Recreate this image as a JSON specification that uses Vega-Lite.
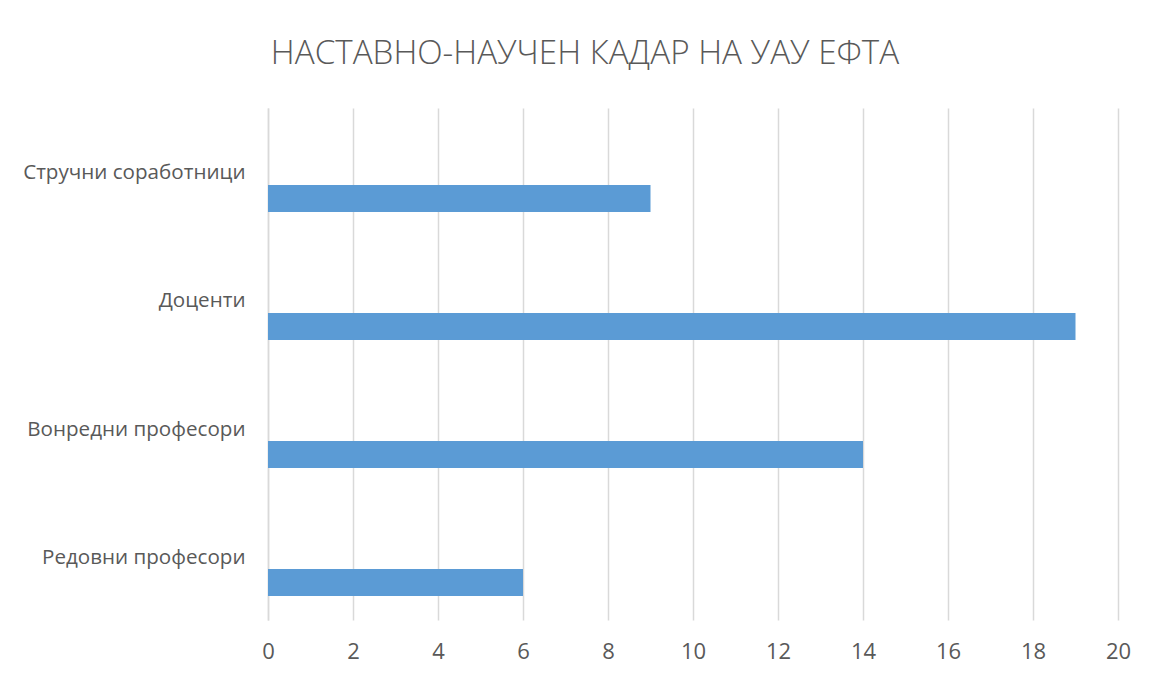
{
  "$schema": "https://vega.github.io/schema/vega-lite/v6.json",
  "width": 850,
  "height": 512,
  "autosize": {"type": "none"},
  "padding": {"left": 268, "top": 108, "right": 34, "bottom": 54},
  "background": "white",
  "title": {
    "text": "НАСТАВНО-НАУЧЕН КАДАР НА УАУ ЕФТА",
    "anchor": "middle",
    "dx": -108,
    "offset": 37,
    "font": "Open Sans",
    "fontSize": 33.2,
    "fontWeight": 300,
    "color": "#595959"
  },
  "data": {
    "values": [
      {"category": "Редовни професори", "count": 6},
      {"category": "Вонредни професори", "count": 14},
      {"category": "Доценти", "count": 19},
      {"category": "Стручни соработници", "count": 9}
    ]
  },
  "mark": {"type": "bar", "color": "#5B9BD5"},
  "encoding": {
    "y": {
      "field": "category",
      "type": "nominal",
      "sort": ["Стручни соработници", "Доценти", "Вонредни професори", "Редовни професори"],
      "scale": {"paddingInner": 0.7891, "paddingOuter": 0.3945, "align": 0.7624},
      "axis": {
        "title": null,
        "ticks": false,
        "domain": true,
        "domainColor": "#d9d9d9",
        "domainWidth": 1.5,
        "labelPadding": 23,
        "labelOffset": -25,
        "labelFont": "Open Sans",
        "labelFontSize": 20.6,
        "labelColor": "#595959",
        "labelLimit": 400,
        "grid": false
      }
    },
    "x": {
      "field": "count",
      "type": "quantitative",
      "scale": {"domain": [0, 20], "nice": false},
      "axis": {
        "title": null,
        "values": [0, 2, 4, 6, 8, 10, 12, 14, 16, 18, 20],
        "ticks": false,
        "domain": false,
        "grid": true,
        "gridColor": "#d9d9d9",
        "gridWidth": 1.5,
        "labelFlush": false,
        "labelPadding": 31,
        "labelBaseline": "middle",
        "labelFont": "Open Sans",
        "labelFontSize": 22,
        "labelColor": "#595959"
      }
    }
  },
  "config": {"view": {"stroke": null}}
}
